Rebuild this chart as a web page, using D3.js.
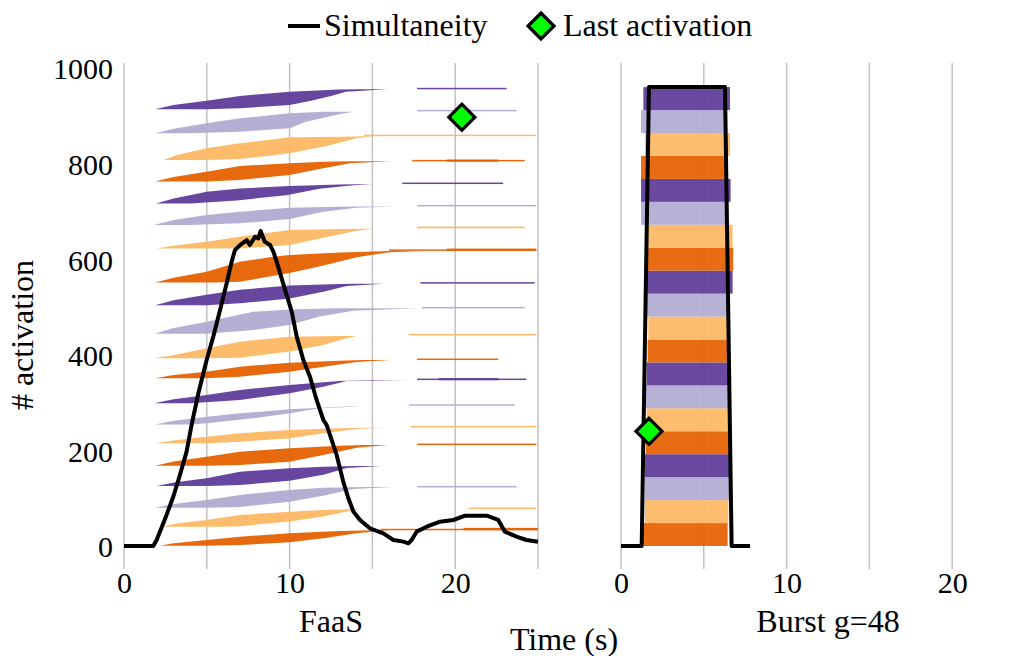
<!DOCTYPE html>
<html><head><meta charset="utf-8">
<script src="https://cdn.jsdelivr.net/npm/d3@7"></script>
<style>
html,body{margin:0;padding:0;background:#fff;}
svg text{font-family:"Liberation Serif","Times New Roman",Tinos,"DejaVu Serif","Noto Serif",Times,serif !important;fill:#000;}
</style></head>
<body><svg id="c" width="1023" height="656"></svg>
<script>
// ---------------- data ----------------
const bandColors = ["#e66101", "#fdb863", "#b2abd2", "#5e3c99"];
const groupSize = 48;
const xTickValues = [0, 10, 20];
const xGridValues = [0, 5, 10, 15, 20, 25];
const yTickValues = [0, 200, 400, 600, 800, 1000];
const panelNames = ["FaaS", "Burst g=48"];

// FaaS: start-time boundary of each group band, as [time s, activation #]
const faasBandStarts = [
  [[2.17,0.7],[3.0,6],[4.99,12.6],[7.0,19.5],[10.0,26.5],[13.0,31.4],[15.06,33]],
  [[2.28,40.4],[3.2,47],[4.99,54.4],[7.0,64.9],[10.0,71.8],[12.0,75.3],[14.0,77.4]],
  [[1.87,80.2],[3.0,88],[4.99,96.2],[7.0,106.7],[10.0,117.2],[12.0,122.1],[14.5,123.5]],
  [[1.97,125.5],[3.0,133],[4.99,141.6],[7.0,155.5],[10.0,162.5],[12.04,166],[14.0,167.4]],
  [[1.87,168.1],[3.0,177],[4.99,186.9],[7.0,197.3],[10.0,204.3],[13.0,209.9],[14.5,211.3]],
  [[1.87,214.8],[2.98,220.5],[4.99,228.8],[7.0,235.8],[10.0,242.7],[13.0,246.2],[14.5,247.6]],
  [[1.87,254],[3.0,262],[4.99,270.6],[7.0,277.6],[10.0,286],[12.5,290.5],[13.5,292]],
  [[1.81,298.5],[3.0,307],[4.99,315.9],[7.0,326.4],[10.0,336.8],[13.0,345.2],[15.0,347.3]],
  [[1.87,350.8],[3.0,357.5],[4.99,364.7],[7.0,375.2],[10.0,383.5],[13.0,387.7],[14.5,389.1]],
  [[1.81,392.6],[2.98,399],[4.99,413.5],[7.0,427.5],[10.0,438],[13.0,439.4]],
  [[1.85,444],[3.0,456],[4.99,469.4],[7.8,490.2],[10.0,495],[12.8,497.3],[14.0,497.5]],
  [[1.87,503.6],[3.0,514],[4.99,525.6],[7.0,536],[10.0,545.1],[13.0,548],[14.0,548.5]],
  [[1.87,551.4],[3.0,561],[4.99,573.7],[7.0,594.6],[9.0,605],[10.0,608.6],[13.0,614],[16.06,617]],
  [[1.97,622.6],[2.98,628],[4.99,636.5],[7.0,647],[10.0,661],[13.0,663],[14.5,663.5]],
  [[1.8,671.5],[3.0,682],[4.99,692.4],[7.0,699.4],[10.0,707.8],[13.0,709.9],[14.0,710]],
  [[1.93,716.5],[3.0,727],[5.0,741],[7.0,748],[10.0,752.9],[13.0,756.4],[14.0,757]],
  [[1.87,762.3],[3.0,772],[4.99,783.2],[7.0,795],[10.0,800.6],[12.04,804.1],[13.5,804.8]],
  [[2.38,807.5],[3.2,818],[4.99,831.9],[7.0,842.4],[10.0,854.9],[13.4,856.3],[14.5,857]],
  [[1.87,863.4],[3.0,873],[4.99,884.3],[7.0,894.7],[10.0,905.2],[12.04,908.7],[13.0,908.5]],
  [[1.87,913.6],[2.98,922.6],[4.99,931.7],[7.0,941.4],[10.0,950.5],[13.0,955],[14.0,955.4]]
];
// FaaS: end-time boundary of each group band, as [time s, activation #]
const faasBandEnds = [
  [[4.99,0.7],[7.0,2],[10.0,7.7],[12.04,16],[14.05,26.5],[16.06,33]],
  [[6.0,40.4],[7.0,41.5],[10.0,51.4],[12.04,61.9],[13.65,73.8],[14.25,77.4]],
  [[4.99,80.2],[7.0,81.5],[10.0,92.7],[12.04,105.3],[13.85,119.2],[16.27,123.5]],
  [[4.99,125.5],[7.0,127.5],[10.0,136.7],[12.04,149.2],[13.45,163.2],[15.5,167.4]],
  [[4.99,168.1],[7.0,169.5],[10.0,176.4],[12.04,190.4],[14.05,205.7],[15.9,211.3]],
  [[4.99,214.8],[7.0,218.3],[10.0,225.3],[12.04,235.8],[14.05,244.8],[15.7,247.6]],
  [[4.0,254],[5.0,257],[7.8,267],[10.0,277.6],[11.8,288],[14.25,292]],
  [[4.0,298.5],[7.0,305.5],[10.0,319.4],[12.04,333.3],[13.45,345],[17.07,347.3]],
  [[4.99,350.8],[7.0,354.3],[10.0,364.7],[12.04,375.2],[14.05,385],[16.1,389.1]],
  [[4.99,392.6],[7.0,394],[10.0,406.7],[12.04,420.6],[13.45,434.6],[14.05,439.4]],
  [[5.0,444],[7.8,451.9],[10.0,462.4],[11.8,479.9],[13.85,492.4],[17.7,497.5]],
  [[4.99,503.6],[7.0,507.6],[10.0,518],[12.04,532],[13.45,544],[15.7,548.5]],
  [[5.5,551.4],[7.0,553],[10.0,571],[12.04,587],[14.05,604.3],[16.06,614.8],[18.1,617]],
  [[7.0,622.6],[10.0,629.6],[12.04,645],[14.05,659.6],[15.06,663.5]],
  [[4.0,671.5],[7.0,675],[10.0,684],[12.04,699.4],[14.05,707.8],[16.3,710]],
  [[4.0,716.5],[6.8,723],[9.8,733.7],[11.8,747.6],[13.85,754.6],[15.0,757]],
  [[4.99,762.3],[7.0,765.8],[10.0,776.2],[12.04,790.2],[13.65,800.6],[16.1,804.8]],
  [[4.99,807.5],[7.0,809.6],[10.0,821.5],[12.04,835.4],[14.05,852.9],[15.06,857]],
  [[4.0,863.4],[7.0,866.8],[10.0,873.8],[11.0,887.7],[13.0,903],[13.85,908.5]],
  [[4.99,913.6],[7.0,915.7],[10.0,922.7],[11.3,931.7],[12.5,941.4],[13.4,950.5],[15.9,955.4]]
];
// FaaS: late activations of each group: [start s, end s, activation #, rows thick]
const faasTails = [
  [[15.5,25,34.5,3],[20.5,25,35.5,5]],
  [[20.8,24.9,78.8,3]],
  [[17.7,23.7,124,3]],
  [],
  [[17.7,24.9,212.7,3]],
  [[17.3,24.9,249.6,3]],
  [[17.2,23.6,295,3]],
  [[17.7,24.3,348.7,3],[19.0,22.6,349,4.5]],
  [[17.7,22.6,390.6,3]],
  [[17.2,24.9,442,3]],
  [[18.0,24.2,498.6,3]],
  [[17.9,24.8,550.5,3]],
  [[16.0,24.9,619,3],[19.5,24.9,620,4.5]],
  [[17.7,24.2,666.5,3.5]],
  [[17.7,24.9,712,3]],
  [[16.8,22.9,758.8,3]],
  [[17.4,24.2,806.2,3],[19.5,22.6,806.2,4.5]],
  [[14.5,24.9,859,3]],
  [[17.7,23.7,910.8,3]],
  [[17.7,23.1,957,3]]
];
// Burst g=48: start and end (s) of each group of 48
const burstStarts = [1.35,1.45,1.45,1.45,1.51,1.55,1.5,1.55,1.61,1.65,1.55,1.55,1.61,1.55,1.21,1.21,1.21,1.45,1.21,1.35];
const burstEnds   = [6.44,6.48,6.54,6.58,6.58,6.58,6.48,6.54,6.54,6.48,6.48,6.74,6.78,6.74,6.34,6.62,6.44,6.58,6.34,6.58];

// Simultaneity (number of concurrently running activations)
const faasSimT = [0,1.77,1.97,2.17,2.57,2.98,3.38,3.78,4.08,4.49,4.99,5.39,5.8,6.2,6.5,6.7,7.0,7.41,7.6,7.91,8.11,8.25,8.5,8.82,9.02,9.22,9.52,9.82,10.13,10.43,10.83,11.23,11.63,12.04,12.24,12.84,13.24,13.55,13.85,14.25,14.85,15.66,16.27,16.87,17.17,17.37,17.67,18.28,19.08,19.89,20.6,21.9,22.6,23.0,23.7,24.3,25];
const faasSimV = [0,0,12.6,30,65,103.6,148.7,197.5,253,319.5,389,438,493.7,549.5,594.8,619,629.6,640,629.6,647,643.6,659,636.7,629.6,615.7,594.8,560,525,490,438,389,354,305.5,263.6,253,190.4,134.7,99.8,72,54.4,37,26.5,12.6,9.1,5.6,12.6,30,40.4,50.9,54.4,63.4,63.4,54.4,30,19.5,12.6,9.1];
const burstSimT = [0,1.25,1.69,6.28,6.68,7.79];
const burstSimV = [0,0,960,960,0,0];

// Last activation markers [time s, activation #]
const faasLast = [20.4, 897];
const burstLast = [1.69, 240];

// ---------------- drawing ----------------
const svg = d3.select("#c");
const y = d3.scaleLinear().domain([0, 1000]).range([546, 68]);
const xL = d3.scaleLinear().domain([0, 25]).range([124, 538]);
const xR = d3.scaleLinear().domain([0, 25]).range([621, 1035]);
const FS = 30;   // digits
const FW = 32;   // words
const gridTop = 63, gridBot = 569;

function grid(x) {
  svg.append("g").selectAll("line").data(xGridValues).join("line")
    .attr("x1", d => x(d)).attr("x2", d => x(d))
    .attr("y1", gridTop).attr("y2", gridBot)
    .attr("stroke", "#c2c2c2").attr("stroke-width", 1.5);
}
grid(xL); grid(xR);

// FaaS bands
const gF = svg.append("g");
faasBandStarts.forEach((starts, i) => {
  const pts = starts.concat(faasBandEnds[i].slice().reverse());
  gF.append("path")
    .attr("d", d3.line().x(d => xL(d[0])).y(d => y(d[1]))(pts) + "Z")
    .attr("fill", bandColors[i % 4]).attr("fill-opacity", 0.95);
  faasTails[i].forEach(t => {
    const h = Math.max(1.5, t[3] * (y(0) - y(1)));
    gF.append("rect")
      .attr("x", xL(t[0])).attr("width", xL(t[1]) - xL(t[0]))
      .attr("y", y(t[2]) - h / 2).attr("height", h)
      .attr("fill", bandColors[i % 4]).attr("fill-opacity", 0.95);
  });
});

// Burst bands
svg.append("g").selectAll("rect").data(burstStarts).join("rect")
  .attr("x", d => xR(d))
  .attr("width", (d, i) => xR(burstEnds[i]) - xR(d))
  .attr("y", (d, i) => y(groupSize * (i + 1)))
  .attr("height", (d, i) => y(groupSize * i) - y(groupSize * (i + 1)))
  .attr("fill", (d, i) => bandColors[i % 4]).attr("fill-opacity", 0.93);

// simultaneity lines
const lineGen = x => d3.line().x(d => x(d[0])).y(d => y(d[1]));
svg.append("path").attr("d", lineGen(xL)(faasSimT.map((t, i) => [t, faasSimV[i]])))
  .attr("fill", "none").attr("stroke", "#000").attr("stroke-width", 4).attr("stroke-linejoin", "round");
svg.append("path").attr("d", lineGen(xR)(burstSimT.map((t, i) => [t, burstSimV[i]])))
  .attr("fill", "none").attr("stroke", "#000").attr("stroke-width", 4).attr("stroke-linejoin", "round");

// diamonds
const diamond = (cx, cy) => `M${cx},${cy-13}L${cx+13},${cy}L${cx},${cy+13}L${cx-13},${cy}Z`;
[[xL, faasLast], [xR, burstLast]].forEach(([x, p]) => {
  svg.append("path").attr("d", diamond(x(p[0]), y(p[1])))
    .attr("fill", "#00ff00").attr("stroke", "#000").attr("stroke-width", 3.2);
});

// axes
function xAxis(x) {
  const g = svg.append("g").attr("transform", "translate(0,572)")
    .call(d3.axisBottom(x).tickValues(xTickValues).tickSize(0).tickPadding(0).tickFormat(d3.format("d")));
  g.select(".domain").remove();
  g.attr("font-family", null).attr("font-size", null);
  g.selectAll("text").attr("font-size", FS).attr("dy", "0.71em");
}
xAxis(xL); xAxis(xR);
const ya = svg.append("g").attr("transform", "translate(113,0)")
  .call(d3.axisLeft(y).tickValues(yTickValues).tickSize(0).tickPadding(0).tickFormat(d3.format("d")));
ya.select(".domain").remove();
ya.attr("font-family", null).attr("font-size", null);
ya.selectAll("text").attr("font-size", FS).attr("dy", "0.36em");

// titles
svg.append("text").attr("x", xL(12.5)).attr("y", 632).attr("text-anchor", "middle").attr("font-size", FW).text(panelNames[0]);
svg.append("text").attr("x", xR(12.5)).attr("y", 632).attr("text-anchor", "middle").attr("font-size", FW).text(panelNames[1]);
svg.append("text").attr("x", 564).attr("y", 650).attr("text-anchor", "middle").attr("font-size", FW).text("Time (s)");
svg.append("text").attr("transform", "translate(33,335) rotate(-90)").attr("text-anchor", "middle").attr("font-size", FW).text("# activation");

// legend
svg.append("line").attr("x1", 288).attr("x2", 320).attr("y1", 26).attr("y2", 26).attr("stroke", "#000").attr("stroke-width", 4);
svg.append("text").attr("x", 324).attr("y", 36).attr("font-size", FW).text("Simultaneity");
svg.append("path").attr("d", diamond(541, 26)).attr("fill", "#00ff00").attr("stroke", "#000").attr("stroke-width", 3.2);
svg.append("text").attr("x", 563).attr("y", 36).attr("font-size", FW).text("Last activation");
</script></body></html>
